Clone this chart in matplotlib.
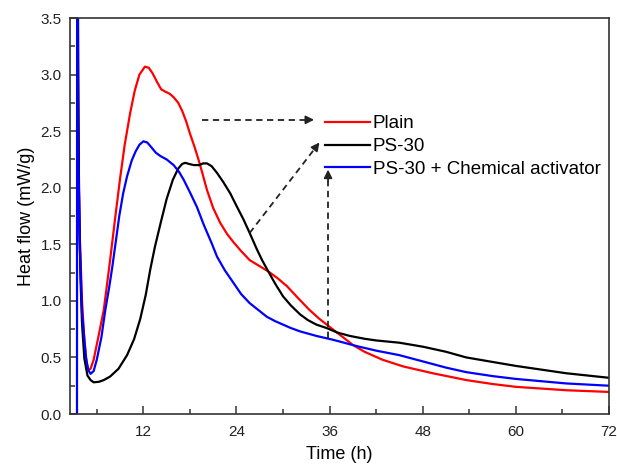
import matplotlib
matplotlib.use("Agg")
import matplotlib.pyplot as plt
from matplotlib.ticker import MultipleLocator, FormatStrFormatter

# ---------------------------------------------------------------
# Data (time in h, heat flow mW/g)
# ---------------------------------------------------------------
plain_t = [3.5, 3.6, 3.8, 4.1, 4.4, 4.7, 4.9, 5.2, 5.6, 6.2, 6.9, 7.7, 8.4,
           9.0, 9.6, 10.3, 10.9, 11.5, 12.2, 12.7, 13.2, 13.8, 14.3, 14.8,
           15.4, 15.9, 16.5, 17.0, 17.5, 18.0, 18.6, 19.1, 19.6, 20.2, 21.0,
           21.9, 22.8, 23.6, 24.6, 25.7, 26.9, 28.1, 29.3, 30.5, 32.0, 33.4,
           34.7, 36.0, 37.7, 39.0, 40.5, 42.8, 45.5, 49.3, 53.6, 57.0, 60.0,
           66.5, 72.0]
plain_v = [4.0, 2.6, 1.6, 1.0, 0.65, 0.45, 0.39, 0.40, 0.48, 0.68, 0.92, 1.35,
           1.75, 2.08, 2.38, 2.66, 2.86, 3.0, 3.07, 3.06, 3.01, 2.93, 2.87,
           2.85, 2.83, 2.80, 2.75, 2.68, 2.59, 2.48, 2.36, 2.25, 2.13, 1.98,
           1.82, 1.69, 1.59, 1.52, 1.44, 1.36, 1.31, 1.26, 1.20, 1.13, 1.02,
           0.92, 0.84, 0.77, 0.68, 0.61, 0.55, 0.48, 0.42, 0.36, 0.30, 0.265,
           0.24, 0.21, 0.195]

ps30_t = [3.55, 3.7, 3.9, 4.1, 4.4, 4.8, 5.2, 5.6, 6.3, 6.9, 7.7, 8.8, 9.9,
          10.8, 11.6, 12.3, 12.9, 13.5, 14.2, 15.0, 15.8, 16.5, 17.0, 17.4,
          17.9, 18.5, 19.2, 19.7, 20.2, 20.8, 21.5, 22.3, 23.2, 24.0, 24.9,
          25.7, 26.6, 27.3, 28.1, 29.0, 30.0, 31.0, 32.2, 33.2, 34.3, 35.6,
          37.0, 38.6, 40.5, 42.0, 45.0, 48.0, 51.0, 53.6, 57.0, 60.0, 66.5,
          72.0]
ps30_v = [4.0, 2.0, 1.2, 0.8, 0.49, 0.34, 0.30, 0.28, 0.285, 0.30, 0.33, 0.40,
          0.52, 0.66, 0.84, 1.05, 1.28, 1.48, 1.68, 1.90, 2.07, 2.17, 2.21,
          2.22, 2.21, 2.20, 2.20, 2.215, 2.215, 2.19, 2.13, 2.05, 1.95, 1.84,
          1.72, 1.60, 1.46, 1.36, 1.26, 1.15, 1.04, 0.96, 0.88, 0.83, 0.79,
          0.76, 0.72, 0.69, 0.665, 0.65, 0.63, 0.595, 0.55, 0.50, 0.46, 0.425,
          0.36, 0.32]

act_t = [3.45, 3.47, 3.6, 3.8, 4.1, 4.6, 4.9, 5.2, 5.6, 6.0, 6.6, 7.1, 7.6,
         8.0, 8.5, 8.9, 9.4, 9.9, 10.5, 11.0, 11.5, 12.0, 12.5, 13.0, 13.6,
         14.2, 15.0, 15.9, 16.6, 17.2, 18.0, 18.9, 19.8, 20.8, 21.5, 22.5,
         23.6, 24.6, 25.7, 26.8, 27.9, 29.0, 30.0, 31.0, 32.2, 34.3, 36.5,
         39.5, 42.0, 45.0, 48.0, 51.0, 53.6, 57.0, 60.0, 66.5, 72.0]
act_v = [0.0, 4.0, 2.4, 1.5, 0.9, 0.5, 0.39, 0.355, 0.38, 0.48, 0.68, 0.92,
         1.12, 1.30, 1.55, 1.75, 1.95, 2.10, 2.24, 2.32, 2.38, 2.41, 2.40,
         2.36, 2.31, 2.28, 2.25, 2.20, 2.14, 2.07, 1.96, 1.83, 1.67, 1.51,
         1.39, 1.27, 1.16, 1.06, 0.98, 0.92, 0.86, 0.82, 0.79, 0.76, 0.73,
         0.69, 0.655, 0.60, 0.56, 0.52, 0.465, 0.41, 0.37, 0.335, 0.31, 0.27,
         0.25]

labels = ["Plain", "PS-30", "PS-30 + Chemical activator"]
colors = ["#ff0000", "#000000", "#0000ff"]

# dashed arrows: (start, end) in data coords
arrows = [((19.5, 2.60), (34.0, 2.60)),
          ((25.7, 1.60), (34.7, 2.40)),
          ((35.8, 0.67), (35.8, 2.16))]

plt.rcParams["font.family"] = ["Liberation Sans", "DejaVu Sans"]

fig = plt.figure(figsize=(6.17, 4.67), dpi=100)
ax = fig.add_axes([70 / 617, 1 - 414 / 467, 539 / 617, 396 / 467])

series = [(plain_t, plain_v), (ps30_t, ps30_v), (act_t, act_v)]
for (t, v), lab, c in zip(series, labels, colors):
    ax.plot(t, v, color=c, lw=1.6, label=lab)

for (x0, y0), (x1, y1) in arrows:
    # dashed shaft plus a solid head
    fx = x0 + (x1 - x0) * 0.93
    fy = y0 + (y1 - y0) * 0.93
    ax.plot([x0, fx], [y0, fy], color="#222222", lw=1.3, dashes=(3.5, 2.5))
    ax.annotate("", xy=(x1, y1), xytext=(fx, fy),
                arrowprops=dict(arrowstyle="-|>", color="#222222", lw=1.3,
                                mutation_scale=12, shrinkA=0, shrinkB=0))

ax.set_xlim(2.55, 72)
ax.set_ylim(0, 3.5)
ax.xaxis.set_major_locator(MultipleLocator(12))
ax.xaxis.set_minor_locator(MultipleLocator(6))
ax.yaxis.set_major_locator(MultipleLocator(0.5))
ax.yaxis.set_minor_locator(MultipleLocator(0.25))
ax.yaxis.set_major_formatter(FormatStrFormatter("%.1f"))

ax.tick_params(which="both", direction="in", top=False, right=False,
               labelsize=11, color="#333333", width=1.1, labelcolor="#222222")
ax.tick_params(which="major", length=6)
ax.tick_params(axis="x", which="major", pad=8)
ax.tick_params(axis="y", which="major", pad=6)
ax.tick_params(which="minor", length=3.5)
for s in ax.spines.values():
    s.set_linewidth(1.2)
    s.set_color("#333333")

ax.set_xlabel("Time (h)", fontsize=13, labelpad=5)
ax.set_ylabel("Heat flow (mW/g)", fontsize=13, labelpad=4)

ax.legend(loc="upper left", bbox_to_anchor=(0.473, 0.755), frameon=False,
          fontsize=13.5, handlelength=2.4, handletextpad=0.15,
          labelspacing=0.31, borderpad=0, borderaxespad=0)

fig.savefig("out.png", dpi=100)
